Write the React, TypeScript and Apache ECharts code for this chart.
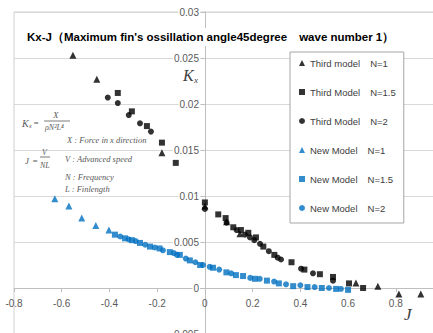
import React, { useEffect, useRef } from "react";
import * as echarts from "echarts";

const titleText = "Kx-J（Maximum fin's ossillation angle45degree　wave number 1）";
const seriesNames = [
  "Third model　N=1",
  "Third Model　N=1.5",
  "Third Model　N=2",
  "New Model　N=1",
  "New Model　N=1.5",
  "New Model　N=2",
];

const thirdN1: [number, number][] = [
  [-0.553, 0.0253], [-0.453, 0.0227], [-0.18, 0.0147], [0.0, 0.0089], [0.091, 0.0072],
  [0.147, 0.0059], [0.633, 0.00054], [0.725, 0.0002], [0.813, -0.00065], [0.905, -0.00065],
];
const thirdN15: [number, number][] = [
  [-0.365, 0.0212], [-0.306, 0.0192], [-0.243, 0.0176], [-0.18, 0.0158], [-0.122, 0.0136],
  [0.0, 0.0093], [0.056, 0.008], [0.087, 0.0076], [0.119, 0.0066], [0.151, 0.0063],
  [0.182, 0.006], [0.214, 0.0055], [0.245, 0.0045], [0.291, 0.0036], [0.363, 0.0028],
  [0.417, 0.002], [0.482, 0.0015], [0.537, 0.0012], [0.604, 0.0005], [0.663, 0.0],
];
const thirdN2: [number, number][] = [
  [-0.407, 0.0207], [-0.365, 0.0201], [-0.319, 0.0188], [-0.272, 0.0179], [-0.226, 0.017],
  [0.0, 0.0086], [0.091, 0.0071], [0.133, 0.0063], [0.168, 0.0058], [0.189, 0.0055],
  [0.207, 0.0052], [0.231, 0.0048], [0.268, 0.004], [0.305, 0.0033], [0.319, 0.0031],
  [0.403, 0.0021], [0.453, 0.0016], [0.537, 0.0008],
];
const newN1: [number, number][] = [
  [-0.629, 0.0097], [-0.57, 0.0089], [-0.516, 0.0076], [-0.457, 0.0068], [-0.402, 0.0063],
];
const newN15: [number, number][] = [
  [-0.377, 0.0058], [-0.335, 0.0054], [-0.306, 0.0052], [-0.272, 0.0049], [-0.23, 0.0045],
  [-0.19, 0.0043], [-0.147, 0.0039], [-0.105, 0.0036], [-0.063, 0.003], [-0.02, 0.0025],
  [0.034, 0.0022], [0.09, 0.0017], [0.13, 0.0014], [0.16, 0.0013], [0.21, 0.001],
  [0.26, 0.0008], [0.31, 0.0005], [0.37, 0.0002], [0.43, 0.0001], [0.49, 0.0],
  [0.55, -0.0001], [0.6, -0.0002],
];
const newN2: [number, number][] = [
  [-0.355, 0.0056], [-0.32, 0.0053], [-0.29, 0.0051], [-0.25, 0.0047], [-0.21, 0.0044],
  [-0.176, 0.0041], [-0.13, 0.0038], [-0.117, 0.0036], [-0.08, 0.0032], [-0.04, 0.0028],
  [-0.008, 0.0025], [0.02, 0.0023], [0.06, 0.002], [0.11, 0.0016], [0.19, 0.0011],
  [0.23, 0.001], [0.29, 0.0007], [0.34, 0.0004], [0.4, 0.0003], [0.46, 0.0001],
  [0.52, 0.0], [0.57, -0.0001],
];

const seriesData = [thirdN1, thirdN15, thirdN2, newN1, newN15, newN2];
const seriesSymbols = ["triangle", "rect", "circle", "triangle", "rect", "circle"];
const seriesSizes = [7, 6, 6, 7, 6, 6];
const seriesColors = ["#000000", "#000000", "#000000", "#0070C0", "#0070C0", "#0070C0"];

const serif = "'Liberation Serif', 'DejaVu Serif', serif";
const sans = "'Liberation Sans', Arial, sans-serif";
const noteColor = "#595959";

function txt(x: number, y: number, text: string, size: number, extra: any = {}) {
  return {
    type: "text",
    x,
    y,
    z: 10,
    style: {
      text,
      fill: extra.fill || noteColor,
      font: `italic ${size}px ${serif}`,
      align: extra.align || "left",
      verticalAlign: "middle",
    },
  };
}

export default function App() {
  const ref = useRef<HTMLDivElement>(null);
  useEffect(() => {
    if (!ref.current) return;
    const chart = echarts.init(ref.current, undefined, { renderer: "svg" });
    const option: any = {
      animation: false,
      backgroundColor: "#ffffff",
      title: {
        text: titleText,
        left: 24,
        top: 28,
        padding: [3, 3, 3, 3],
        backgroundColor: "#ffffff",
        textStyle: { fontSize: 11.5, fontWeight: "bold", color: "#000", fontFamily: sans },
      },
      legend: {
        orient: "vertical",
        left: 290,
        top: 52,
        padding: [6, 8, 10, 9],
        itemGap: 19,
        itemWidth: 6,
        itemHeight: 6,
        backgroundColor: "#ffffff",
        borderColor: "#a6a6a6",
        borderWidth: 1,
        borderRadius: 0,
        textStyle: { fontSize: 9.5, color: "#404040", fontFamily: sans },
        data: seriesNames.map((n, i) => ({ name: n, icon: seriesSymbols[i] })),
      },
      grid: {
        left: 14,
        right: -10.5,
        top: 12,
        bottom: -1,
        outerBoundsMode: "none",
        containLabel: false,
        show: true,
        borderColor: "#d0d0d0",
        borderWidth: 1,
        backgroundColor: "transparent",
      },
      xAxis: {
        type: "value",
        min: -0.8,
        max: 1.0,
        interval: 0.2,
        position: "bottom",
        offset: -46,
        axisLine: { onZero: false, lineStyle: { color: "#bfbfbf" } },
        axisTick: { show: true, length: 4, lineStyle: { color: "#bfbfbf" } },
        axisLabel: {
          fontSize: 10,
          color: "#595959",
          fontFamily: sans,
          margin: 10,
          showMaxLabel: false,
        },
        splitLine: { show: false },
      },
      yAxis: {
        type: "value",
        min: -0.005,
        max: 0.03,
        interval: 0.005,
        position: "left",
        offset: -191,
        axisLine: { show: true, onZero: false, lineStyle: { color: "#bfbfbf" } },
        axisTick: { show: true, length: 4, lineStyle: { color: "#bfbfbf" } },
        axisLabel: {
          fontSize: 10,
          color: "#595959",
          fontFamily: sans,
          margin: 5,
          backgroundColor: "#ffffff",
          padding: [0, 1, 0, 1],
        },
        splitLine: { show: true, lineStyle: { color: "#d9d9d9" } },
      },
      series: seriesNames.map((name, i) => ({
        name,
        type: "scatter",
        data: seriesData[i],
        symbol: seriesSymbols[i],
        symbolSize: seriesSizes[i],
        itemStyle: { color: seriesColors[i] },
        z: i < 3 ? 3 : 2,
      })),
      graphic: [
        txt(183, 75, "K", 16, { fill: "#404040" }),
        txt(194, 80, "x", 9, { fill: "#404040" }),
        txt(404, 314, "J", 17, { fill: "#404040" }),
        txt(22, 123, "K", 10),
        txt(29, 126, "x", 6),
        txt(33, 123, "=", 9),
        txt(53, 115, "X", 9),
        { type: "line", z: 10, shape: { x1: 44, y1: 121, x2: 70, y2: 121 }, style: { stroke: noteColor, lineWidth: 0.8 } },
        txt(45, 127, "ρN²L⁴", 8),
        txt(67, 140, "X : Force in x direction", 8.5),
        txt(25, 161, "J", 9),
        txt(32, 161, "=", 9),
        txt(42, 152, "V", 8),
        { type: "line", z: 10, shape: { x1: 40, y1: 157, x2: 50, y2: 157 }, style: { stroke: noteColor, lineWidth: 0.8 } },
        txt(40, 165, "NL", 8),
        txt(65, 159, "V : Advanced speed", 8.5),
        txt(65, 177, "N : Frequency", 8.5),
        txt(65, 189, "L : Finlength", 8.5),
      ],
    };
    chart.setOption(option);
    return () => chart.dispose();
  }, []);
  return (
    <div
      ref={ref}
      style={{ position: "absolute", left: 0, top: 0, width: 433, height: 333 }}
    />
  );
}
